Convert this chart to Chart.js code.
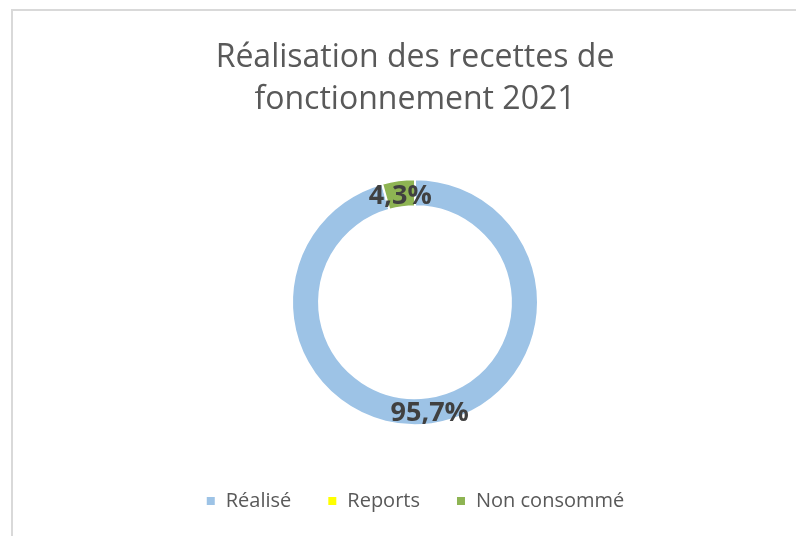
<!DOCTYPE html>
<html>
<head>
<meta charset="utf-8">
<script src="https://cdn.jsdelivr.net/npm/chart.js@4.4.1/dist/chart.umd.min.js"></script>
<style>
    html, body { margin: 0; padding: 0; background: #fff; overflow: hidden; }
    #wrap { position: relative; width: 796px; height: 536px; }
    #frame {
        position: absolute; left: 11px; top: 9px; width: 900px; height: 700px;
        border-top: 2px solid #d9d9d9; border-left: 2px solid #d9d9d9;
    }
    canvas { position: absolute; left: 0; top: 0; }
</style>
</head>
<body>
<div id="wrap">
    <div id="frame"></div>
    <canvas id="donutChart" width="796" height="536"></canvas>
</div>
<script>
const titleLines = ["Réalisation des recettes de", "fonctionnement 2021"];
const categories = ["Réalisé", "Reports", "Non consommé"];
const shares = [95.7, 0, 4.3];
const sliceColors = ["#9DC3E6", "#FFFF00", "#8EB453"];

// percent labels at the middle of each ring slice
const sliceLabels = {
    id: "sliceLabels",
    afterDatasetsDraw(chart) {
        const ctx = chart.ctx;
        const meta = chart.getDatasetMeta(0);
        ctx.save();
        ctx.font = "bold 27px 'Open Sans', sans-serif";
        ctx.fillStyle = "#404040";
        ctx.textAlign = "center";
        ctx.textBaseline = "middle";
        meta.data.forEach((arc, i) => {
            const v = shares[i];
            if (!v) return;
            const p = arc.tooltipPosition();
            ctx.fillText(v.toFixed(1).replace(".", ",") + "%", p.x, p.y + 3);
        });
        ctx.restore();
    }
};

const ctx = document.getElementById("donutChart").getContext("2d");
new Chart(ctx, {
    type: "doughnut",
    data: {
        labels: categories,
        datasets: [
            {
                data: shares,
                backgroundColor: sliceColors,
                borderColor: "#ffffff",
                borderWidth: 2,
                radius: 123,
            }
        ]
    },
    options: {
        responsive: false,
        animation: false,
        cutout: "78%",
        layout: {
            padding: { top: 10, left: 34, right: 0, bottom: 15 }
        },
        plugins: {
            title: {
                display: true,
                text: titleLines,
                color: "#595959",
                font: { family: "'Open Sans', sans-serif", size: 32, weight: "normal", lineHeight: 1.32 },
                padding: { top: 27, bottom: 28 }
            },
            legend: {
                position: "bottom",
                labels: {
                    color: "#595959",
                    font: { family: "'Open Sans', sans-serif", size: 20 },
                    boxWidth: 10,
                    boxHeight: 10,
                    padding: 36
                }
            },
            tooltip: { enabled: false }
        }
    },
    plugins: [sliceLabels]
});
</script>
</body>
</html>
